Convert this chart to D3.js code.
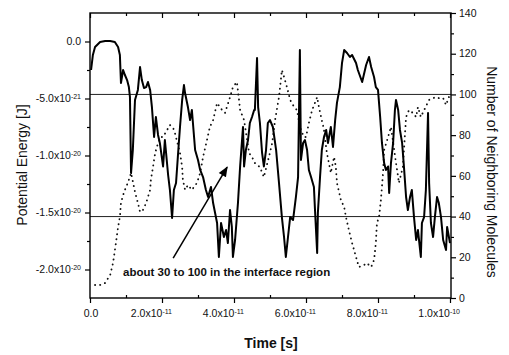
<!DOCTYPE html>
<html>
<head>
<meta charset="utf-8">
<script src="https://cdn.jsdelivr.net/npm/d3@7"></script>
<style>
  body { margin: 0; background: #fff; }
  text { font-family: "Liberation Sans", Arial, sans-serif; fill: #111; }
</style>
</head>
<body>
<svg id="chart"></svg>
<script>
// time in units of 1e-11 s, energy in units of 1e-21 J
const timeE = [
  0.03, 0.08, 0.14, 0.28, 0.42, 0.56, 0.69, 0.78, 0.83, 0.86,
  0.92, 0.97, 1.03, 1.08, 1.11, 1.14, 1.19, 1.25, 1.33, 1.39,
  1.44, 1.50, 1.56, 1.61, 1.67, 1.72, 1.78, 1.83, 1.89, 1.94,
  2.03, 2.08, 2.17, 2.22, 2.28, 2.33, 2.39, 2.44, 2.50, 2.56,
  2.61, 2.64, 2.72, 2.78, 2.83, 2.92, 3.00, 3.06, 3.14, 3.22,
  3.28, 3.36, 3.42, 3.53, 3.58, 3.64, 3.72, 3.78, 3.83, 3.89,
  3.94, 3.97, 4.03, 4.11, 4.17, 4.25, 4.28, 4.33, 4.39, 4.44,
  4.50, 4.56, 4.58, 4.64, 4.67, 4.72, 4.78, 4.83, 4.89, 4.94,
  5.00, 5.08, 5.17, 5.25, 5.33, 5.39, 5.44, 5.50, 5.56, 5.64,
  5.72, 5.78, 5.83, 5.86, 5.92, 5.97, 6.03, 6.08, 6.14, 6.22,
  6.25, 6.31, 6.33, 6.39, 6.44, 6.50, 6.56, 6.61, 6.69, 6.75,
  6.81, 6.86, 6.94, 7.00, 7.06, 7.14, 7.22, 7.28, 7.39, 7.44,
  7.56, 7.67, 7.75, 7.81, 7.89, 7.94, 8.00, 8.06, 8.11, 8.17,
  8.22, 8.28, 8.31, 8.36, 8.42, 8.47, 8.50, 8.56, 8.61, 8.67,
  8.72, 8.78, 8.83, 8.89, 8.94, 9.00, 9.06, 9.11, 9.19, 9.22,
  9.28, 9.33, 9.39, 9.42, 9.47, 9.53, 9.58, 9.64, 9.69, 9.75,
  9.81, 9.89, 9.92, 9.97, 10.00
];
const energy = [
  -2.50, -1.18, -0.48, -0.04, 0.04, 0.04, -0.04, -0.48, -1.18, -3.64,
  -2.50, -2.94, -3.38, -4.00, -4.87, -11.54, -9.52, -5.13, -4.25, -2.24,
  -3.38, -4.08, -4.00, -3.55, -4.25, -5.75, -8.38, -6.62, -8.20, -8.90,
  -10.96, -8.64, -11.71, -13.03, -15.48, -13.03, -12.41, -10.13, -7.50, -5.13,
  -3.82, -4.52, -5.75, -6.89, -6.01, -9.52, -10.39, -11.27, -11.89, -13.03,
  -13.64, -12.76, -14.17, -15.92, -18.90, -15.92, -17.15, -16.54, -17.68, -14.78,
  -16.27, -18.90, -17.41, -14.17, -10.96, -7.50, -10.96, -9.52, -8.64, -7.15,
  -6.62, -6.01, -6.01, -1.45, -5.75, -7.15, -9.78, -10.96, -9.52, -7.15,
  -6.89, -7.50, -9.52, -12.41, -15.40, -17.15, -18.90, -17.15, -15.40, -15.66,
  -13.64, -11.89, -0.75, -10.39, -8.90, -8.64, -9.52, -11.27, -11.89, -12.76,
  -14.78, -18.55, -15.04, -11.89, -9.52, -8.38, -7.76, -8.90, -7.50, -9.25,
  -6.89, -5.39, -4.00, -1.89, -0.75, -1.01, -1.36, -1.18, -1.89, -2.50,
  -3.55, -2.06, -1.36, -2.24, -3.11, -4.00, -4.25, -6.62, -8.90, -10.66,
  -11.27, -10.96, -13.29, -10.66, -8.90, -6.01, -5.13, -6.01, -7.76, -8.90,
  -10.96, -13.64, -14.78, -13.64, -13.03, -15.40, -17.41, -16.54, -18.90, -15.92,
  -15.40, -13.03, -6.27, -12.41, -15.92, -17.15, -15.40, -13.64, -14.17, -15.40,
  -17.41, -18.29, -16.27, -17.15, -17.68
];

// number of neighboring molecules (dotted)
const timeN = [
  0.14, 0.28, 0.42, 0.56, 0.64, 0.72, 0.78, 0.83, 0.86, 0.92,
  0.97, 1.06, 1.14, 1.25, 1.33, 1.39, 1.47, 1.56, 1.67, 1.69,
  1.75, 1.81, 1.89, 1.97, 2.03, 2.14, 2.22, 2.31, 2.36, 2.50,
  2.56, 2.58, 2.64, 2.72, 2.83, 2.97, 3.06, 3.14, 3.25, 3.33,
  3.42, 3.53, 3.67, 3.75, 3.89, 3.97, 4.08, 4.14, 4.17, 4.28,
  4.42, 4.50, 4.58, 4.72, 4.83, 4.97, 5.06, 5.14, 5.25, 5.28,
  5.33, 5.39, 5.47, 5.56, 5.67, 5.75, 5.83, 5.94, 6.00, 6.08,
  6.17, 6.28, 6.31, 6.36, 6.42, 6.50, 6.58, 6.69, 6.78, 6.83,
  6.86, 6.97, 7.06, 7.11, 7.19, 7.28, 7.39, 7.47, 7.61, 7.69,
  7.81, 7.89, 7.94, 7.97, 8.03, 8.08, 8.14, 8.17, 8.28, 8.36,
  8.50, 8.56, 8.58, 8.69, 8.78, 8.86, 8.97, 9.06, 9.11, 9.19,
  9.28, 9.42, 9.53, 9.61, 9.69, 9.81, 9.89, 9.97
];
const neighbors = [
  6.4, 6.4, 7.4, 11.3, 17.2, 27.0, 34.9, 39.8, 46.7, 50.6,
  53.1, 57.0, 61.4, 52.1, 46.7, 42.2, 43.2, 46.7, 53.1, 58.0,
  64.3, 71.2, 76.1, 79.1, 79.1, 82.5, 85.0, 83.5, 81.0, 71.2,
  64.3, 58.0, 53.1, 55.5, 53.1, 56.5, 61.4, 69.3, 77.6, 84.0,
  87.4, 95.8, 92.3, 90.9, 98.7, 103.6, 106.1, 97.3, 92.3, 87.4,
  71.2, 69.3, 66.3, 64.3, 59.4, 69.3, 76.1, 87.4, 98.7, 103.6,
  112.0, 108.6, 103.6, 97.3, 93.8, 92.3, 84.0, 79.1, 79.1, 86.0,
  92.3, 97.3, 98.7, 93.8, 88.9, 82.5, 71.2, 61.4, 69.3, 64.3,
  56.5, 48.1, 44.7, 39.8, 33.4, 27.0, 20.1, 15.2, 16.2, 17.2,
  15.2, 18.7, 27.0, 36.8, 39.8, 48.1, 61.4, 72.7, 79.1, 84.0,
  66.3, 59.4, 56.5, 64.3, 88.9, 92.3, 90.9, 88.9, 93.8, 88.9,
  92.3, 97.3, 98.2, 98.7, 98.2, 98.2, 94.8, 98.7
];

const bottomTicks = [0, 2, 4, 6, 8, 10];
const bottomMinor = [1, 3, 5, 7, 9];
const bottomMant = ["0.0", "2.0x10", "4.0x10", "6.0x10", "8.0x10", "1.0x10"];
const bottomExp = ["", "-11", "-11", "-11", "-11", "-10"];
const leftTicks = [0, -5, -10, -15, -20];
const leftMinor = [-2.5, -7.5, -12.5, -17.5];
const leftMant = ["0.0", "-5.0x10", "-1.0x10", "-1.5x10", "-2.0x10"];
const leftExp = ["", "-21", "-20", "-20", "-20"];
const rightTicks = [0, 20, 40, 60, 80, 100, 120, 140];
const rightMinor = [10, 30, 50, 70, 90, 110, 130];
const refLines = [100, 40];
const noteText = "about 30 to 100 in the interface region";
const notePos = [0.92, 10.8];
const arrowFrom = [2.31, 19.6];
const arrowTo = [3.81, 64.3];

const W = 509, H = 355;
const L = 90, R = 451, T = 13, B = 298;

const svg = d3.select('#chart').attr('width', W).attr('height', H);

const x = d3.scaleLinear().domain([0, 10]).range([L, 450]);
const yE = d3.scaleLinear().domain([-22.5, 2.5]).range([B, T]);
const yN = d3.scaleLinear().domain([0, 140]).range([B, T]);

// reference lines
svg.append('g').selectAll('line')
  .data(refLines).enter().append('line')
  .attr('x1', L).attr('x2', R)
  .attr('y1', d => yN(d)).attr('y2', d => yN(d))
  .attr('stroke', '#222').attr('stroke-width', 1);

// neighbors (dotted)
svg.append('path')
  .datum(d3.zip(timeN, neighbors))
  .attr('fill', 'none')
  .attr('stroke', '#111')
  .attr('stroke-width', 1.9)
  .attr('stroke-linecap', 'round')
  .attr('stroke-dasharray', '0.1,5')
  .attr('d', d3.line().x(d => x(d[0])).y(d => yN(d[1])));

// energy (solid)
svg.append('path')
  .datum(d3.zip(timeE, energy))
  .attr('fill', 'none')
  .attr('stroke', '#000')
  .attr('stroke-width', 2)
  .attr('stroke-linejoin', 'round')
  .attr('d', d3.line().x(d => x(d[0])).y(d => yE(d[1])));

// frame
svg.append('rect')
  .attr('x', L).attr('y', T).attr('width', R - L).attr('height', B - T)
  .attr('fill', 'none').attr('stroke', '#000').attr('stroke-width', 1.4);

function ticks(axis, tx, ty) {
  svg.append('g').attr('transform', `translate(${tx},${ty})`)
    .call(axis.tickFormat(''))
    .call(g => g.select('.domain').remove())
    .call(g => g.selectAll('line').attr('stroke', '#000').attr('stroke-width', 1.2));
}
ticks(d3.axisBottom(x).tickValues(bottomTicks).tickSize(5), 0, B);
ticks(d3.axisBottom(x).tickValues(bottomMinor).tickSize(-3), 0, B);
ticks(d3.axisTop(x).tickValues(bottomTicks).tickSize(-5), 0, T);
ticks(d3.axisTop(x).tickValues(bottomMinor).tickSize(-3), 0, T);
ticks(d3.axisLeft(yE).tickValues(leftTicks).tickSize(5), L, 0);
ticks(d3.axisLeft(yE).tickValues(leftMinor).tickSize(3), L, 0);
ticks(d3.axisRight(yN).tickValues(rightTicks).tickSize(5), R, 0);
ticks(d3.axisRight(yN).tickValues(rightMinor).tickSize(3), R, 0);

function sci(sel, mant, exp) {
  sel.append('tspan').text(mant);
  if (exp) sel.append('tspan').attr('dy', '-0.45em').attr('font-size', '7px').text(exp);
}

// left labels
leftTicks.forEach((v, i) => {
  const t = svg.append('text')
    .attr('x', 81).attr('y', yE(v)).attr('dy', '0.35em')
    .attr('text-anchor', 'end').attr('font-size', '10.5px');
  sci(t, leftMant[i], leftExp[i]);
});

// bottom labels
bottomTicks.forEach((v, i) => {
  const t = svg.append('text')
    .attr('x', i === 0 ? x(v) + 1 : x(v) + 10).attr('y', 317)
    .attr('text-anchor', i === 0 ? 'middle' : 'end').attr('font-size', '10.5px');
  sci(t, bottomMant[i], bottomExp[i]);
});

// right labels
rightTicks.forEach(v => {
  svg.append('text')
    .attr('x', 459).attr('y', yN(v)).attr('dy', '0.35em')
    .attr('font-size', '10.5px').text(v);
});

// axis titles
svg.append('text')
  .attr('transform', 'translate(22,165) rotate(-90)')
  .attr('dy', '0.35em').attr('text-anchor', 'middle').attr('font-size', '14px')
  .text('Potential Energy [J]');
svg.append('text')
  .attr('transform', 'translate(492,172) rotate(90)')
  .attr('dy', '0.35em').attr('text-anchor', 'middle').attr('font-size', '14px')
  .text('Number of Neighboring Molecules');
svg.append('text')
  .attr('x', 271).attr('y', 348)
  .attr('text-anchor', 'middle').attr('font-size', '14px').attr('font-weight', 'bold')
  .text('Time [s]');

// annotation
svg.append('defs').append('marker')
  .attr('id', 'head').attr('viewBox', '0 0 10 10')
  .attr('refX', 9).attr('refY', 5)
  .attr('markerWidth', 7).attr('markerHeight', 7)
  .attr('orient', 'auto')
  .append('path').attr('d', 'M0,1 L10,5 L0,9 Z').attr('fill', '#000');

svg.append('line')
  .attr('x1', x(arrowFrom[0])).attr('y1', yN(arrowFrom[1]))
  .attr('x2', x(arrowTo[0])).attr('y2', yN(arrowTo[1]))
  .attr('stroke', '#000').attr('stroke-width', 1.5)
  .attr('marker-end', 'url(#head)');

svg.append('text')
  .attr('x', x(notePos[0])).attr('y', yN(notePos[1]))
  .attr('font-size', '11.5px').attr('font-weight', 'bold')
  .text(noteText);
</script>
</body>
</html>
